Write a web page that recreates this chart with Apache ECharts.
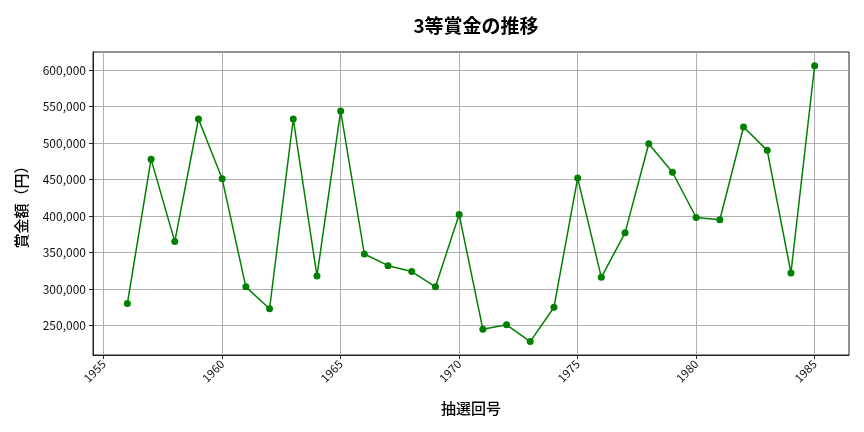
<!DOCTYPE html>
<html>
<head>
<meta charset="utf-8">
<script src="https://cdn.jsdelivr.net/npm/echarts@6/dist/echarts.min.js"></script>
<style>
  html, body { margin: 0; padding: 0; background: #fff; }
  #main { width: 864px; height: 432px; }
</style>
</head>
<body>
<div id="main"></div>
<script>
// 抽選回号（年）
const years = [1956, 1957, 1958, 1959, 1960, 1961, 1962, 1963, 1964, 1965,
               1966, 1967, 1968, 1969, 1970, 1971, 1972, 1973, 1974, 1975,
               1976, 1977, 1978, 1979, 1980, 1981, 1982, 1983, 1984, 1985];
// 3等賞金（円）
const prizes = [280000, 478000, 365000, 533000, 451000, 303000, 273000, 533000, 318000, 544000,
                348000, 332000, 324000, 303000, 402000, 245000, 251000, 228000, 275000, 452000,
                316000, 377000, 499000, 460000, 398000, 395000, 522000, 490000, 322000, 606000];
// 目盛り
const xTicks = [1955, 1960, 1965, 1970, 1975, 1980, 1985];
const yTicks = [250000, 300000, 350000, 400000, 450000, 500000, 550000, 600000];

const font = '"Noto Sans CJK JP", "Noto Sans", sans-serif';
let myChart = echarts.init(document.getElementById('main'));

let option = {
    animation: false,
    backgroundColor: '#fff',
    title: {
        text: '3等賞金の推移',
        left: 471,
        textAlign: 'center',
        top: 11,
        textStyle: { fontFamily: font, fontSize: 19, fontWeight: 'bold', color: '#000' }
    },
    grid: { left: 93, right: 15, top: 52, bottom: 77, show: true, borderColor: '#222', borderWidth: 1 },
    xAxis: {
        type: 'value',
        min: 1954.55,
        max: 1986.45,
        name: '抽選回号',
        nameLocation: 'middle',
        nameGap: 46,
        nameTextStyle: { fontFamily: font, fontSize: 15, fontWeight: 500, color: '#000' },
        axisLine: { show: true, onZero: false, lineStyle: { color: '#222' } },
        axisTick: { show: true, length: 4, customValues: xTicks, lineStyle: { color: '#222' } },
        axisLabel: {
            customValues: xTicks,
            rotate: 45,
            fontFamily: font, fontSize: 11.5, color: '#111',
            margin: 7,
            formatter: v => String(v)
        },
        splitLine: { show: true, lineStyle: { color: '#b0b0b0', width: 1 } }
    },
    yAxis: {
        type: 'value',
        min: 209600,
        max: 624800,
        name: '賞金額（円）',
        nameLocation: 'middle',
        nameGap: 64,
        nameTextStyle: { fontFamily: font, fontSize: 15, fontWeight: 500, color: '#000' },
        axisLine: { show: true, lineStyle: { color: '#222' } },
        axisTick: { show: true, length: 4, customValues: yTicks, lineStyle: { color: '#222' } },
        axisLabel: {
            customValues: yTicks,
            fontFamily: font, fontSize: 12, color: '#111',
            margin: 7,
            formatter: v => v.toLocaleString('en-US')
        },
        splitLine: { show: true, lineStyle: { color: '#b0b0b0', width: 1 } }
    },
    series: [{
        type: 'line',
        data: years.map((y, i) => [y, prizes[i]]),
        symbol: 'circle',
        symbolSize: 7,
        lineStyle: { color: '#008000', width: 1.5 },
        itemStyle: { color: '#008000' }
    }]
};
myChart.setOption(option);
</script>
</body>
</html>
